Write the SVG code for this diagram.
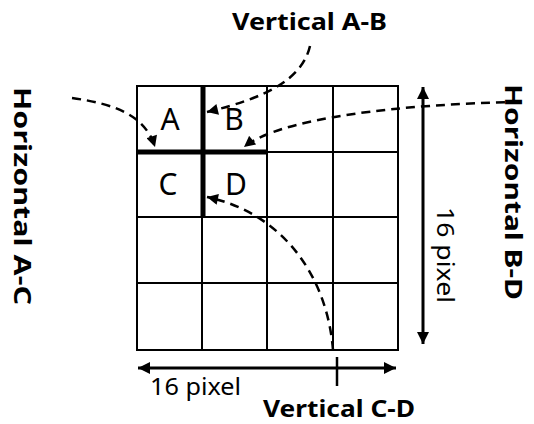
<svg xmlns="http://www.w3.org/2000/svg" width="534" height="424" viewBox="0 0 534 424">
<defs>
<style>
.grid{stroke:#000;stroke-width:2;fill:none}
.thick{stroke:#000;stroke-width:5;fill:none}
.dash{stroke:#000;stroke-width:2.5;fill:none;stroke-dasharray:9 6}
.dim{stroke:#000;stroke-width:3;fill:none}
.lbl{font-family:"Noto Sans","DejaVu Sans",sans-serif;font-weight:bold;font-size:24px;fill:#000}
.cell{font-family:"Noto Sans","DejaVu Sans",sans-serif;font-size:30px;fill:#000;text-anchor:middle}
.px{font-family:"Noto Sans","DejaVu Sans",sans-serif;font-size:24px;fill:#000}
</style>
<marker id="ah" viewBox="0 0 10 10" refX="10" refY="5" markerWidth="12" markerHeight="11" markerUnits="userSpaceOnUse" orient="auto">
<path d="M0,0 L10,5 L0,10 Z" fill="#000"/>
</marker>
<marker id="dh" viewBox="0 0 10 10" refX="10" refY="5" markerWidth="15" markerHeight="12" markerUnits="userSpaceOnUse" orient="auto-start-reverse">
<path d="M0,0 L10,5 L0,10 Z" fill="#000"/>
</marker>
</defs>
<rect width="534" height="424" fill="#fff"/>
<g id="grid">
<rect class="grid" x="137" y="86" width="261" height="264"/>
<line class="grid" x1="202" y1="86" x2="202" y2="350"/>
<line class="grid" x1="267" y1="86" x2="267" y2="350"/>
<line class="grid" x1="333" y1="86" x2="333" y2="350"/>
<line class="grid" x1="137" y1="152" x2="398" y2="152"/>
<line class="grid" x1="137" y1="217" x2="398" y2="217"/>
<line class="grid" x1="137" y1="283" x2="398" y2="283"/>
<line class="thick" x1="203" y1="86" x2="203" y2="218"/>
<line class="thick" x1="137" y1="152" x2="267" y2="152"/>
</g>
<g id="cell-A"><text class="cell" x="170" y="130">A</text></g>
<g id="cell-B"><text class="cell" x="234" y="130">B</text></g>
<g id="cell-C"><text class="cell" x="168" y="195">C</text></g>
<g id="cell-D"><text class="cell" x="236" y="195">D</text></g>
<g id="dimensions">
<line class="dim" x1="423" y1="87" x2="423" y2="344" marker-start="url(#dh)" marker-end="url(#dh)"/>
<line class="dim" x1="138" y1="368" x2="396" y2="368" marker-start="url(#dh)" marker-end="url(#dh)"/>
<text class="px" transform="translate(437,207) rotate(90)" textLength="96" lengthAdjust="spacingAndGlyphs">16 pixel</text>
<text class="px" x="150" y="395" textLength="91" lengthAdjust="spacingAndGlyphs">16 pixel</text>
</g>
<g id="connectors">
<path class="dash" d="M310 46 C302 80 265 98 207 112" marker-end="url(#ah)"/>
<path class="dash" d="M72 98 C115 104 145 115 155 147" marker-end="url(#ah)"/>
<path class="dash" d="M520 102 C400 104 280 118 244 147" marker-end="url(#ah)"/>
<path class="dash" d="M333 350 C327 275 282 213 207 197" marker-end="url(#ah)"/>
<line stroke="#000" stroke-width="2.5" x1="337" y1="357" x2="337" y2="386"/>
</g>
<g id="label-vab"><text class="lbl" x="232" y="30" textLength="155" lengthAdjust="spacingAndGlyphs">Vertical A-B</text></g>
<g id="label-vcd"><text class="lbl" x="263" y="417" textLength="152" lengthAdjust="spacingAndGlyphs">Vertical C-D</text></g>
<g id="label-hac"><text class="lbl" transform="translate(14,87) rotate(90)" textLength="218" lengthAdjust="spacingAndGlyphs">Horizontal A-C</text></g>
<g id="label-hbd"><text class="lbl" transform="translate(505,84) rotate(90)" textLength="216" lengthAdjust="spacingAndGlyphs">Horizontal B-D</text></g>
</svg>
